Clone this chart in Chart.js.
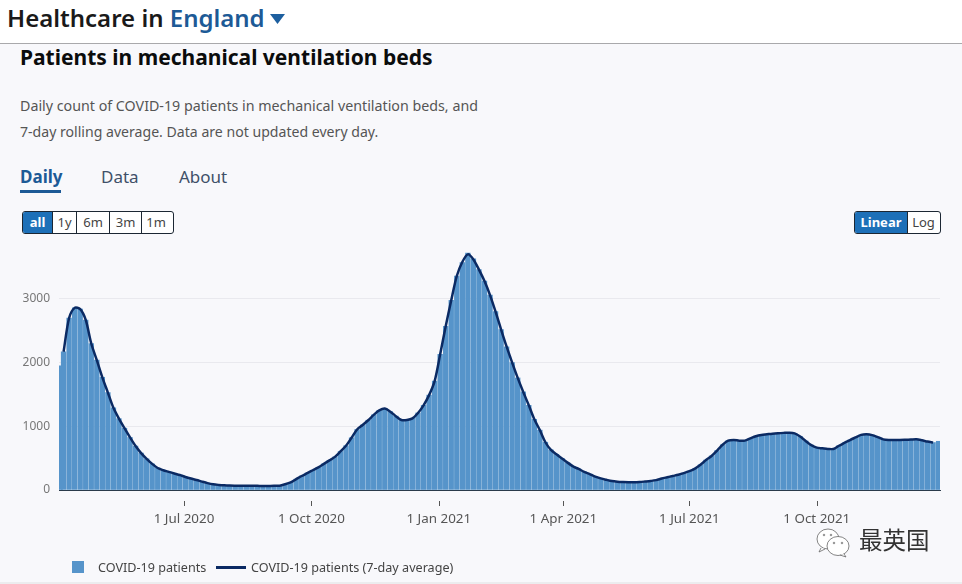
<!DOCTYPE html>
<html><head><meta charset="utf-8">
<script src="https://cdn.jsdelivr.net/npm/chart.js@4"></script>
<style>
html,body{margin:0;padding:0;width:962px;height:584px;overflow:hidden;background:#f8f8fb;font-family:"Noto Sans",sans-serif;}
.t{position:absolute;white-space:nowrap;line-height:1;}
#top{position:absolute;left:0;top:0;width:962px;height:43px;background:#fff;border-bottom:1.5px solid #a9a9ab;}
#foot{position:absolute;left:0;top:582px;width:962px;height:2px;background:#ececee;}
canvas{position:absolute;left:0;top:0;}
.grp{position:absolute;top:211px;height:21px;display:flex;border:1px solid #1c2733;border-radius:3px;overflow:hidden;font-size:13px;background:#fff;color:#444;}
.grp div{display:flex;align-items:center;justify-content:center;border-left:1px solid #1c2733;padding-bottom:1px;box-sizing:border-box;}
.grp div:first-child{border-left:0;}
.grp .on{background:#1d70b8;color:#fff;font-weight:700;}
</style></head><body>
<div id="top"></div>
<div class="t" style="left:7px;top:6px;font-size:24px;font-weight:600;color:#1a1a1a;">Healthcare in <span style="color:#1d5a96">England</span></div>
<svg style="position:absolute;left:270px;top:13px" width="16" height="12"><path d="M0 1H15L7.5 11Z" fill="#1d5f9f"/></svg>
<div class="t" style="left:20px;top:47px;font-size:21px;font-weight:700;color:#0b0c0c;">Patients in mechanical ventilation beds</div>
<div class="t" style="left:20px;top:99px;font-size:14.25px;color:#555;">Daily count of COVID-19 patients in mechanical ventilation beds, and</div>
<div class="t" style="left:20px;top:125px;font-size:14.1px;color:#555;">7-day rolling average. Data are not updated every day.</div>
<div class="t" style="left:20px;top:168px;font-size:17px;font-weight:700;color:#1d5a96;">Daily</div>
<div style="position:absolute;left:20px;top:190px;width:41px;height:3px;background:#1d5a96;"></div>
<div class="t" style="left:101px;top:168px;font-size:17px;color:#3f5068;">Data</div>
<div class="t" style="left:179px;top:168px;font-size:17px;color:#3f5068;">About</div>
<div class="grp" style="left:22px;width:150px;">
<div class="on" style="width:29px">all</div><div style="width:24px">1y</div><div style="width:33px">6m</div><div style="width:32px">3m</div><div style="width:29px">1m</div></div>
<div class="grp" style="left:854px;width:85px;">
<div class="on" style="width:52px">Linear</div><div style="width:32px">Log</div></div>
<canvas id="c" width="962" height="584"></canvas>
<div id="foot"></div>
<div style="position:absolute;left:72px;top:561px;width:12px;height:12px;background:#5694ca;"></div>
<div class="t" style="left:98px;top:562px;font-size:12.6px;color:#444;">COVID-19 patients</div>
<div style="position:absolute;left:216px;top:566px;width:30px;height:2.5px;background:#0b2a63;"></div>
<div class="t" style="left:251px;top:562px;font-size:12.6px;color:#444;">COVID-19 patients (7-day average)</div>
<svg style="position:absolute;left:813px;top:528px" width="42" height="30" fill="#fff" stroke="#666" stroke-width="0.8"><ellipse cx="15" cy="11" rx="11" ry="10"/><path d="M8 20l-2 4 6-3"/><ellipse cx="25" cy="18" rx="11" ry="9.5"/><path d="M31 26l2 3-6-2"/><circle cx="11" cy="7" r="0.8"/><circle cx="18" cy="7" r="0.8"/><circle cx="21" cy="15" r="0.8"/><circle cx="29" cy="15" r="0.8"/></svg>
<div class="t" style="left:859px;top:528px;font-size:23.5px;color:#333;font-family:'Noto Sans CJK SC';">最英国</div>
<script>
const tickDays = [91, 183, 275, 365, 456, 548];
const tickLabels = ['1 Jul 2020','1 Oct 2020','1 Jan 2021','1 Apr 2021','1 Jul 2021','1 Oct 2021'];
const yTicks = [0, 1000, 2000, 3000];
const days = [];
const patients = [1950,2170,2700,2860,2840,2670,2300,2040,1770,1530,1290,1120,970,825,690,580,490,410,345,310,285,260,235,205,180,158,132,108,90,80,73,69,68,68,67,66,65,63,64,65,68,90,120,170,220,265,310,355,410,465,520,605,695,820,950,1020,1095,1180,1250,1280,1230,1160,1100,1100,1125,1210,1330,1490,1710,2130,2570,2980,3360,3570,3720,3630,3460,3280,3060,2800,2520,2250,2000,1760,1540,1330,1110,940,750,630,560,495,430,370,330,285,250,210,182,160,140,130,125,122,121,125,133,142,155,180,200,220,240,265,295,335,395,470,535,620,710,774,785,775,775,810,845,865,875,885,892,897,900,890,840,770,705,665,655,645,645,695,740,785,825,865,875,862,830,795,785,785,785,788,792,796,780,760,745,765];
const average = [null,2170,2700,2860,2840,2670,2300,2040,1770,1530,1290,1120,970,825,690,580,490,410,345,310,285,260,235,205,180,158,132,108,90,80,73,69,68,68,67,66,65,63,64,65,68,90,120,170,220,265,310,355,410,465,520,605,695,820,950,1020,1095,1180,1250,1280,1230,1160,1100,1100,1125,1210,1330,1490,1710,2130,2570,2980,3360,3580,3700,3620,3460,3280,3060,2800,2520,2250,2000,1760,1540,1330,1110,940,750,630,560,495,430,370,330,285,250,210,182,160,140,130,125,122,121,125,133,142,155,180,200,220,240,265,295,335,395,470,535,620,710,774,785,775,775,810,845,865,875,885,892,897,900,890,840,770,705,665,655,645,645,695,740,785,825,865,875,862,830,795,785,785,785,788,792,796,780,760,745,null];
for (let i = 0; i < patients.length; i++) days.push(i === 0 ? 1.5 : i * 4);

const tickMarks = {
  id: 'tickMarks',
  afterDraw(chart) {
    const s = chart.scales.x, c = chart.ctx;
    c.save(); c.strokeStyle = '#555'; c.lineWidth = 1;
    s.ticks.forEach((t, i) => {
      const px = Math.round(s.getPixelForTick(i)) + 0.5;
      c.beginPath(); c.moveTo(px, chart.chartArea.bottom + 11); c.lineTo(px, chart.chartArea.bottom + 16); c.stroke();
    });
    c.restore();
  }
};
new Chart(document.getElementById('c'), {
  data: {
    datasets: [
      { type: 'line', label: 'COVID-19 patients (7-day average)', order: 0,
        data: average.map((v, i) => ({ x: days[i], y: v })),
        borderColor: '#0b2a63', borderWidth: 2.5, pointRadius: 0, tension: 0.3, spanGaps: false, clip: false },
      { type: 'bar', label: 'COVID-19 patients', order: 1,
        data: patients.map((v, i) => ({ x: days[i], y: v })),
        backgroundColor: '#5694ca', barThickness: 4.7, borderWidth: 0 }
    ]
  },
  options: {
    responsive: false, animation: false, parsing: true,
    layout: { padding: { top: 248, right: 22, left: 0, bottom: 0 } },
    plugins: { legend: { display: false }, tooltip: { enabled: false } },
    scales: {
      x: {
        type: 'linear', min: 0.7, max: 637, offset: false,
        afterBuildTicks(s) { s.ticks = tickDays.map(v => ({ value: v })); },
        afterFit(s) { s.height = 94; },
        ticks: { autoSkip: false, maxRotation: 0, padding: 21, color: '#555', font: { family: 'Noto Sans', size: 13.4 },
          callback(v) { return tickLabels[tickDays.indexOf(v)]; } },
        grid: { display: false, drawTicks: false },
        border: { display: true, color: '#2a3a4a', width: 1 }
      },
      y: {
        min: 0, max: 3800,
        afterBuildTicks(s) { s.ticks = yTicks.map(v => ({ value: v })); },
        afterFit(s) { s.width = 59; },
        ticks: { padding: 9, color: '#777', font: { family: 'Noto Sans', size: 12 }, callback(v) { return String(v); } },
        grid: { color: '#e9e9ee', drawTicks: false, lineWidth: 1 },
        border: { display: false }
      }
    }
  },
  plugins: [tickMarks]
});
</script>
</body></html>
